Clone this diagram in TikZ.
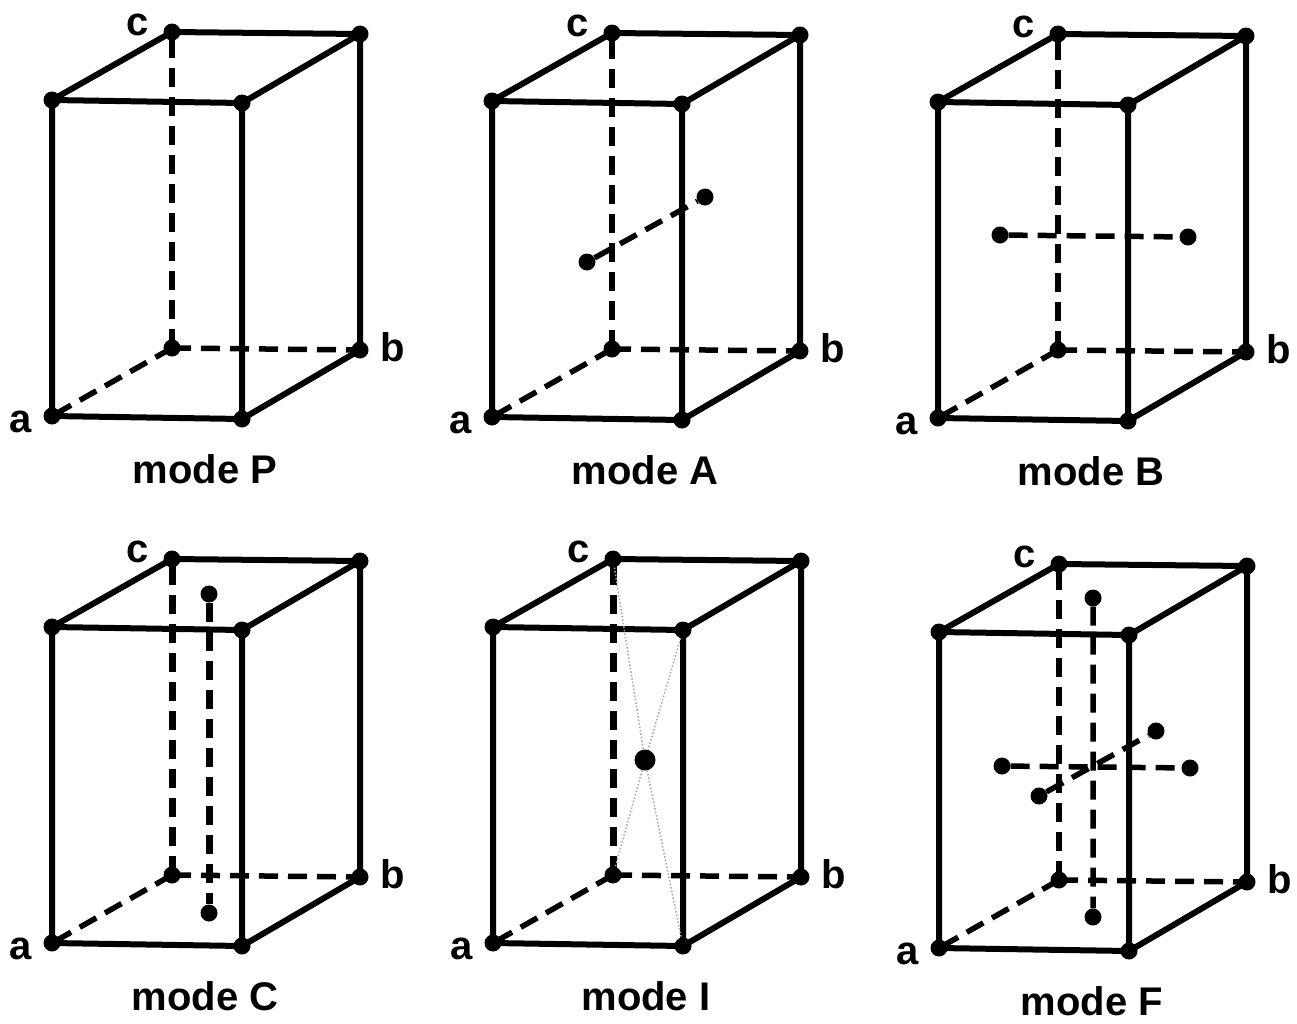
\documentclass[tikz,border=0pt]{standalone}
\usepackage{fontspec}
\setmainfont{Liberation Sans}
\tikzset{
  edge/.style={line width=6pt, line cap=round, line join=round},
  hid/.style={line width=5.5pt, dash pattern=on 19pt off 10pt},
  hidthick/.style={line width=7pt, dash pattern=on 19pt off 10pt},
  corner/.style={circle, fill=black, inner sep=0pt, minimum size=17pt},
  site/.style={circle, fill=black, inner sep=0pt, minimum size=17pt},
  bigsite/.style={circle, fill=black, inner sep=0pt, minimum size=21pt},
  axlabel/.style={font=\fontsize{40}{44}\selectfont\bfseries, inner sep=0pt},
  title/.style={font=\fontsize{40}{44}\selectfont\bfseries, inner sep=0pt, anchor=base},
  diag/.style={black!35, line width=1.5pt, dotted}
}
% #1 prefix, #2 x, #3 y, #4 title letter, #5 style of the hidden vertical edge
\newcommand\cellbox[5]{%
  \begin{scope}[shift={(#2,#3)}]
    \coordinate (#1a) at (0,0);
    \coordinate (#1o) at (120,-68);
    \coordinate (#1b) at (308,-66);
    \coordinate (#1f) at (190,3);
    \coordinate (#1ta) at (0,-316);
    \coordinate (#1to) at (120,-384);
    \coordinate (#1tb) at (308,-382);
    \coordinate (#1tf) at (190,-313);
    \node[title] (#1title) at (153,67) {mode #4};
    \node[axlabel] (#1la) at (-31,6) {a};
    \node[axlabel] (#1lb) at (341,-69) {b};
    \node[axlabel] (#1lc) at (86,-391) {c};
  \end{scope}
  \draw[hid] (#1o) -- (#1a) (#1o) -- (#1b);
  \draw[#5] (#1o) -- (#1to);
  \draw[edge] (#1a) -- (#1f) -- (#1b) -- (#1tb) -- (#1to) -- (#1ta) -- cycle
              (#1ta) -- (#1tf) -- (#1tb) (#1f) -- (#1tf);
  \foreach \k in {a,o,b,f,ta,to,tb,tf} \node[corner] (#1d\k) at (#1\k) {};
}
\begin{document}
\begin{tikzpicture}[x=1pt,y=-1pt]
  \fill[white] (0,0) rectangle (1297,1023);
  \useasboundingbox (0,0) rectangle (1297,1023);

  % mode P
  \cellbox{P}{52}{416}{P}{hid}

  % mode A
  \cellbox{A}{492}{417}{A}{hid}
  \begin{scope}[shift={(492,417)}]
    \node[site] (Afront) at (95,-155) {};
    \node[site] (Aback) at (213,-220) {};
  \end{scope}
  \draw[hid] (Afront) -- (Aback);

  % mode B
  \cellbox{B}{938}{418}{B}{hid}
  \begin{scope}[shift={(938,418)}]
    \node[site] (Bleft) at (62,-183) {};
    \node[site] (Bright) at (250,-181) {};
  \end{scope}
  \draw[hid] (Bleft) -- (Bright);

  % mode C
  \cellbox{C}{52}{943}{C}{hidthick}
  \begin{scope}[shift={(52,943)}]
    \node[site] (Ctop) at (157,-349) {};
    \node[site] (Cbot) at (157,-30) {};
  \end{scope}
  \draw[hidthick] (Ctop) -- (Cbot);

  % mode I
  \cellbox{I}{493}{943}{I}{hidthick}
  \begin{scope}[shift={(493,943)}]
    \node[bigsite] (Icenter) at (152,-183) {};
  \end{scope}
  \draw[diag] (Idto) -- (Icenter) -- (Idf) (Idtf) -- (Icenter) -- (Ido);

  % mode F
  \cellbox{F}{939}{948}{F}{hid}
  \begin{scope}[shift={(939,948)}]
    \node[site] (Ftop) at (154,-350) {};
    \node[site] (Fbot) at (154,-31) {};
    \node[site] (Fleft) at (63,-182) {};
    \node[site] (Fright) at (251,-180) {};
    \node[site] (Ffront) at (100,-152) {};
    \node[site] (Fback) at (217,-217) {};
  \end{scope}
  \draw[hid] (Ftop) -- (Fbot) (Fleft) -- (Fright) (Ffront) -- (Fback);
\end{tikzpicture}
\end{document}
